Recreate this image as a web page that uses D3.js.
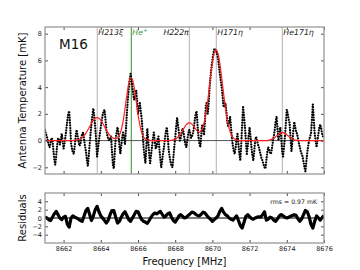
<!DOCTYPE html>
<html lang="en">
<head>
<meta charset="UTF-8">
<title>M16 recombination lines</title>
<script src="https://d3js.org/d3.v7.min.js"></script>
<style>
  body { margin: 0; background: #fff; }
  svg text { font-family: "DejaVu Sans", sans-serif; }
  .tick text { font-size: 6.5px; fill: #222; }
  .tick line { stroke: #222; stroke-width: 0.8px; }
</style>
</head>
<body>
<svg width="360" height="270"></svg>
<script>
// spectrum, 0.05 MHz channels from 8661 to 8676 MHz
const freqStart = 8661, freqEnd = 8676;
const antennaTemp = [
  0.8, 0.5, 0.3, 0.0, -0.3, -0.5, -0.2, 0.2, 0.1, -0.7,
  -1.4, -1.8, -1.2, -0.4, 0.2, 0.0, -0.3, 0.1, 0.5, 0.0,
  -0.6, -0.2, 0.3, 0.9, 1.5, 2.0, 2.2, 1.2, -0.2, -0.6,
  -0.9, -1.0, -0.4, 0.3, 0.8, 0.4, 0.0, -0.4, -0.3, 0.2,
  0.5, 0.6, 0.1, -0.4, -0.8, -1.4, -1.9, -1.2, -0.3, 0.5,
  1.3, 1.9, 2.4, 1.8, 1.0, 0.0, -1.2, -0.6, 0.0, 0.5,
  1.0, 1.5, 1.9, 2.2, 2.3, 1.6, 0.8, 0.4, 0.1, 0.0,
  0.2, 0.3, -0.8, -1.8, -2.1, -0.9, 0.2, 0.6, 1.0, 0.6,
  -0.4, -1.0, -0.4, 0.2, 0.6, 0.2, -0.3, 0.8, 2.0, 3.0,
  3.8, 4.5, 5.0, 4.6, 4.0, 3.4, 3.0, 3.4, 3.8, 3.0,
  2.0, 2.4, 2.8, 2.2, 1.6, 0.6, -0.5, -1.2, -1.7, -0.4,
  0.9, 0.0, -1.0, -1.7, -1.1, -0.5, 0.1, 0.6, 0.0, -0.6,
  -0.5, 0.1, 0.3, -0.6, -1.4, -2.0, -1.5, -0.9, -0.5, 0.2,
  0.7, 1.0, 0.3, -0.7, -1.2, -1.6, -1.9, -2.0, -1.3, -0.5,
  0.2, 1.0, 1.7, 1.2, 0.6, 0.0, 0.2, 0.6, 0.9, 0.6,
  0.1, -0.3, -0.5, 0.0, 0.5, 0.8, 0.6, 0.2, 0.3, 0.5,
  0.9, 1.5, 2.0, 2.2, 1.2, 0.3, -0.2, -0.5, 0.4, 1.2,
  0.8, 0.4, 1.5, 2.6, 2.9, 2.0, 2.8, 4.0, 4.8, 5.5,
  6.0, 6.5, 6.9, 6.8, 6.7, 6.5, 6.2, 5.6, 5.0, 4.5,
  4.0, 3.3, 2.5, 2.6, 2.8, 2.2, 1.4, 1.0, 1.4, 1.8,
  1.0, 0.2, -0.4, -0.8, -1.0, -0.5, 0.1, 0.5, -0.3, -1.0,
  -1.5, -0.3, 1.2, 2.5, 1.8, 1.0, 0.0, -1.0, -0.4, 0.4,
  1.0, 0.3, -0.5, -1.1, -1.5, -0.8, 0.0, 0.3, 0.0, -0.3,
  -0.5, -0.8, -1.1, -1.4, -1.5, -1.8, -2.0, -2.1, -1.5, -0.9,
  -0.5, -0.7, -0.9, -1.0, -0.6, -0.1, 0.3, 0.8, 1.4, 1.8,
  0.9, 0.0, 0.5, 1.0, 0.2, -0.8, -1.2, -0.5, 0.3, 1.3,
  2.3, 2.0, 1.6, 1.3, 0.2, -0.8, -0.1, 0.7, 1.4, 1.0,
  0.7, 0.5, 0.2, -0.2, -0.5, -0.8, -1.0, -1.2, -1.6, -2.0,
  -2.3, -1.6, -0.9, -0.4, 0.0, 0.3, 0.5, 1.5, 2.7, 1.6,
  0.5, 0.0, -0.5, 0.0, 0.5, 1.0, 1.2, 0.9, 0.5, 0.3,
  0.2
];

// gaussian fit, sampled every 0.1 MHz
const fitTemp = [
  0, 0, 0, 0, 0, 0, 0, 0, 0, 0,
  0, 0, 0, 0, 0, 0, 0.02, 0.04, 0.08, 0.14,
  0.23, 0.37, 0.56, 0.79, 1.04, 1.30, 1.52, 1.67, 1.72, 1.67,
  1.52, 1.30, 1.04, 0.79, 0.56, 0.37, 0.24, 0.16, 0.14, 0.20,
  0.40, 0.80, 1.45, 2.36, 3.37, 4.24, 4.69, 4.57, 3.93, 2.97,
  1.97, 1.16, 0.60, 0.27, 0.11, 0.04, 0.01, 0, 0, 0,
  0, 0, 0, 0, 0, 0, 0, 0.01, 0.02, 0.05,
  0.11, 0.20, 0.34, 0.53, 0.76, 0.99, 1.19, 1.31, 1.32, 1.22,
  1.06, 0.86, 0.69, 0.63, 0.73, 1.04, 1.62, 2.48, 3.55, 4.71,
  5.78, 6.53, 6.80, 6.53, 5.78, 4.71, 3.54, 2.45, 1.56, 0.92,
  0.50, 0.25, 0.11, 0.05, 0.02, 0, 0, 0, 0, 0,
  0, 0, 0, 0, 0, 0, 0, 0, 0, 0,
  0.02, 0.05, 0.11, 0.19, 0.29, 0.41, 0.52, 0.59, 0.59, 0.54,
  0.44, 0.32, 0.20, 0.12, 0.06, 0.03, 0.01, 0, 0, 0,
  0, 0, 0, 0, 0, 0, 0, 0, 0, 0,
  0
];

// residuals, every 0.1 MHz
const residuals = [
  0.3, 0.0, -0.4, -0.6, 0.2, 1.0, 1.6, 0.8, 0.0, -0.4,
  0.2, 0.4, -1.5, -2.2, 0.0, 0.5, 0.2, 0.0, -0.3, -0.6,
  -0.8, 0.5, 1.8, 2.3, 0.8, -0.6, 0.5, 2.0, 2.8, 1.5,
  0.5, 0.0, -0.6, -1.2, -0.5, 0.8, 1.8, 1.8, 0.2, -1.2,
  -0.8, 0.2, 1.0, 1.5, 0.6, -0.4, -0.8, 0.0, 0.8, 1.6,
  1.5, 0.5, -0.4, -0.8, -1.0, -1.3, -0.6, 0.2, 0.8, 1.2,
  1.0, 1.3, 1.6, 0.9, 0.2, 0.5, 1.0, 1.2, 0.2, -0.6,
  -1.0, -0.3, 0.5, 0.8, 0.4, 0.0, 0.2, 0.6, 1.0, 1.4,
  1.3, 0.9, 0.6, 0.5, 0.9, 1.4, 1.2, 0.6, 0.1, -0.3,
  -0.8, -0.4, 0.0, 0.5, 1.6, 2.3, 1.4, 0.8, 0.5, 0.0,
  -0.3, -0.5, 0.0, 0.5, -0.6, -1.8, -2.4, -1.0, 0.4, 0.8,
  0.3, -0.1, -0.3, 0.0, 0.2, 0.3, 0.2, 0.8, 1.5, -0.5,
  -0.3, 0.2, 0.0, -0.5, -0.8, -0.2, 0.5, 0.8, 0.5, 0.2,
  0.0, 0.2, 0.4, 0.6, 0.8, 0.6, -0.2, -0.8, -0.2, 0.8,
  1.8, 1.5, 0.3, -1.5, -2.4, -0.8, 0.5, 0.0, -0.5, 0.1,
  0.6
];

const lineNames = ["H213ξ", "He+", "H222π", "H171η", "He171η"];
const lineFreqs = [8663.81, 8665.64, 8668.76, 8670.21, 8673.76];
const xTicks = [8662, 8664, 8666, 8668, 8670, 8672, 8674, 8676];
const yTicks = [-2, 0, 2, 4, 6, 8];
const resTicks = [-4, -2, 0, 2, 4];

const dataFreq = antennaTemp.map((_, i) => freqStart + i * 0.05);
const fitFreq = fitTemp.map((_, i) => freqStart + i * 0.1);

const svg = d3.select("svg");
const left = 45, right = 324;
const main = { top: 27, bottom: 174 };
const res = { top: 193, bottom: 243 };

const x = d3.scaleLinear().domain([freqStart, freqEnd]).range([left, right]);
const y = d3.scaleLinear().domain([-2.5, 8.5]).range([main.bottom, main.top]);
const yr = d3.scaleLinear().domain([-6, 6]).range([res.bottom, res.top]);

const fmt = d => d < 0 ? "\u2212" + Math.abs(d) : d;

svg.append("rect").attr("width", 360).attr("height", 270).attr("fill", "#fff");

const defs = svg.append("defs");
defs.append("clipPath").attr("id", "clipMain").append("rect")
  .attr("x", left).attr("y", main.top).attr("width", right - left).attr("height", main.bottom - main.top);
defs.append("clipPath").attr("id", "clipRes").append("rect")
  .attr("x", left).attr("y", res.top).attr("width", right - left).attr("height", res.bottom - res.top);

// main panel
const gm = svg.append("g").attr("clip-path", "url(#clipMain)");

gm.selectAll("line.spec").data(lineFreqs).enter().append("line")
  .attr("x1", d => x(d)).attr("x2", d => x(d))
  .attr("y1", main.top).attr("y2", main.bottom)
  .attr("stroke", (d, i) => lineNames[i] === "He+" ? "#3c9a3c" : "#c4b4b4")
  .attr("stroke-width", 1.1);

gm.append("line")
  .attr("x1", left).attr("x2", right)
  .attr("y1", y(0)).attr("y2", y(0))
  .attr("stroke", "#555").attr("stroke-width", 1);

gm.append("path")
  .datum(antennaTemp)
  .attr("fill", "none")
  .attr("stroke", "#000")
  .attr("stroke-width", 2.3)
  .attr("stroke-linecap", "round")
  .attr("stroke-dasharray", "0,2.6")
  .attr("d", d3.line().x((d, i) => x(dataFreq[i])).y(d => y(d)));

gm.append("path")
  .datum(fitTemp)
  .attr("fill", "none")
  .attr("stroke", "#ff2020")
  .attr("stroke-width", 1.2)
  .attr("d", d3.line().x((d, i) => x(fitFreq[i])).y(d => y(d)).curve(d3.curveCatmullRom));

// line labels
const lbl = svg.append("g").attr("font-family", "'Liberation Serif', 'DejaVu Serif', serif")
  .attr("font-style", "italic").attr("font-size", 7.8);
lineNames.forEach((name, i) => {
  const isHe = name === "He+";
  const t = lbl.append("text")
    .attr("x", name === "H222π" ? x(lineFreqs[i]) - 0.5 : x(lineFreqs[i]) + 1)
    .attr("y", 35)
    .attr("text-anchor", name === "H222π" ? "end" : "start")
    .attr("fill", isHe ? "#3c9a3c" : "#222");
  if (isHe) {
    t.append("tspan").text("He");
    t.append("tspan").attr("dy", -3).attr("font-size", 5.5).text("+");
  } else {
    t.text(name);
  }
});

svg.append("text").attr("x", 59).attr("y", 49)
  .attr("font-size", 13.5).attr("fill", "#111").text("M16");

// residual panel
const gr = svg.append("g").attr("clip-path", "url(#clipRes)");
gr.append("line")
  .attr("x1", left).attr("x2", right)
  .attr("y1", yr(0)).attr("y2", yr(0))
  .attr("stroke", "#000").attr("stroke-width", 1);
gr.append("path")
  .datum(residuals)
  .attr("fill", "none")
  .attr("stroke", "#000")
  .attr("stroke-width", 3.2)
  .attr("stroke-linejoin", "round")
  .attr("d", d3.line().x((d, i) => x(fitFreq[i])).y(d => yr(d)));

svg.append("text").attr("x", 317).attr("y", 204)
  .attr("text-anchor", "end").attr("font-size", 6.2).attr("fill", "#111")
  .text("rms =  0.97 mK");

// axes (ticks point inward)
function axes(ys, yTickVals, top, bottom, showX) {
  svg.append("g").attr("transform", `translate(0,${bottom})`)
    .call(d3.axisBottom(x).tickValues(xTicks).tickSizeInner(-3).tickSizeOuter(0).tickPadding(3.5)
      .tickFormat(showX ? d3.format("d") : ""))
    .call(g => g.select(".domain").remove());
  svg.append("g").attr("transform", `translate(0,${top})`)
    .call(d3.axisTop(x).tickValues(xTicks).tickSizeInner(-3).tickSizeOuter(0).tickFormat(""))
    .call(g => g.select(".domain").remove());
  svg.append("g").attr("transform", `translate(${left},0)`)
    .call(d3.axisLeft(ys).tickValues(yTickVals).tickSizeInner(-3).tickSizeOuter(0).tickPadding(3).tickFormat(fmt))
    .call(g => g.select(".domain").remove());
  svg.append("g").attr("transform", `translate(${right},0)`)
    .call(d3.axisRight(ys).tickValues(yTickVals).tickSizeInner(-3).tickSizeOuter(0).tickFormat(""))
    .call(g => g.select(".domain").remove());
  svg.append("rect")
    .attr("x", left).attr("y", top).attr("width", right - left).attr("height", bottom - top)
    .attr("fill", "none").attr("stroke", "#999").attr("stroke-width", 1.3);
}
axes(y, yTicks, main.top, main.bottom, false);
axes(yr, resTicks, res.top, res.bottom, true);

svg.append("text")
  .attr("transform", `translate(26,${(main.top + main.bottom) / 2}) rotate(-90)`)
  .attr("text-anchor", "middle").attr("font-size", 10).attr("fill", "#111")
  .text("Antenna Temperature [mK]");
svg.append("text")
  .attr("transform", `translate(26,${(res.top + res.bottom) / 2}) rotate(-90)`)
  .attr("text-anchor", "middle").attr("font-size", 10).attr("fill", "#111")
  .text("Residuals");
svg.append("text")
  .attr("x", (left + right) / 2).attr("y", 265)
  .attr("text-anchor", "middle").attr("font-size", 10).attr("fill", "#111")
  .text("Frequency [MHz]");
</script>
</body>
</html>
